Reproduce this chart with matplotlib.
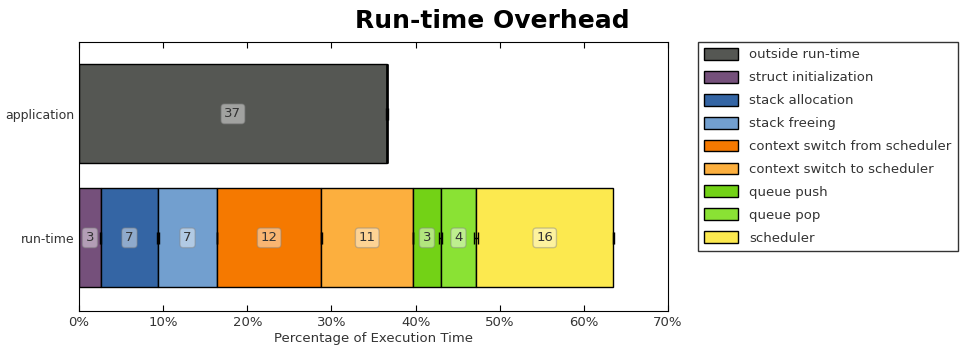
import matplotlib
matplotlib.use('Agg')
import matplotlib.pyplot as plt
import numpy as np

plt.rcParams['font.family'] = ['DejaVu Sans']

rows = ['run-time', 'application']
categories = ['outside run-time', 'struct initialization', 'stack allocation',
              'stack freeing', 'context switch from scheduler',
              'context switch to scheduler', 'queue push', 'queue pop', 'scheduler']
colors = ['#555753', '#75507b', '#3465a4', '#729fcf', '#f57900',
          '#fcaf3e', '#73d216', '#8ae234', '#fce94f']

# percentages per row (run-time, application)
values = {
    'outside run-time': [0.0, 36.6],
    'struct initialization': [2.6, 0.0],
    'stack allocation': [6.8, 0.0],
    'stack freeing': [7.0, 0.0],
    'context switch from scheduler': [12.4, 0.0],
    'context switch to scheduler': [10.9, 0.0],
    'queue push': [3.3, 0.0],
    'queue pop': [4.2, 0.0],
    'scheduler': [16.3, 0.0],
}
errors = {
    'outside run-time': [0.0, 0.1],
    'struct initialization': [0.05, 0.0],
    'stack allocation': [0.08, 0.0],
    'stack freeing': [0.05, 0.0],
    'context switch from scheduler': [0.05, 0.0],
    'context switch to scheduler': [0.05, 0.0],
    'queue push': [0.2, 0.0],
    'queue pop': [0.2, 0.0],
    'scheduler': [0.05, 0.0],
}

fig = plt.figure(figsize=(9.71, 3.49), dpi=100)
ax = fig.add_axes([79 / 971, 1 - 311 / 349, (668 - 79) / 971, (311 - 42) / 349])

y = np.arange(len(rows))
left = np.zeros(len(rows))
for cat, col in zip(categories, colors):
    vals = np.array(values[cat])
    errs = np.array(errors[cat])
    ax.barh(y, vals, height=0.8, left=left, color=col, edgecolor='black',
            linewidth=1, label=cat)
    for i in range(len(rows)):
        if vals[i] <= 0:
            continue
        ax.errorbar(left[i] + vals[i], y[i], xerr=errs[i], fmt='none',
                    ecolor='black', elinewidth=1, capsize=4, capthick=1)
        ax.text(left[i] + vals[i] / 2, y[i], '%d' % round(vals[i]),
                ha='center', va='center', fontsize=9.5, color='#333333',
                bbox=dict(boxstyle='round,pad=0.25', fc='white', ec='#888888',
                          alpha=0.45, lw=1))
    left += vals

ax.set_xlim(0, 70)
ax.set_ylim(-0.59, 1.58)
ax.set_xticks(np.arange(0, 71, 10))
ax.set_xticklabels(['%d%%' % t for t in range(0, 71, 10)], fontsize=9.5, color='#333333')
ax.set_yticks(y)
ax.set_yticklabels(rows, fontsize=9, color='#333333')
ax.tick_params(axis='x', direction='in', top=True, length=4)
ax.tick_params(axis='y', length=0)
ax.set_xlabel('Percentage of Execution Time', fontsize=9.5, color='#333333', labelpad=2)
fig.suptitle('Run-time Overhead', fontsize=18, fontweight='bold', x=492 / 971, y=0.975)

leg = fig.legend(loc='upper left', bbox_to_anchor=(698 / 971, 1 - 42 / 349),
                 fontsize=9.5, frameon=True, fancybox=False, handlelength=2.6,
                 handleheight=1.0, labelspacing=0.72, borderaxespad=0, borderpad=0.45,
                 handletextpad=0.85)
leg.get_frame().set_edgecolor('black')
leg.get_frame().set_linewidth(1)
for t in leg.get_texts():
    t.set_color('#333333')

fig.savefig('out.png', dpi=100)
